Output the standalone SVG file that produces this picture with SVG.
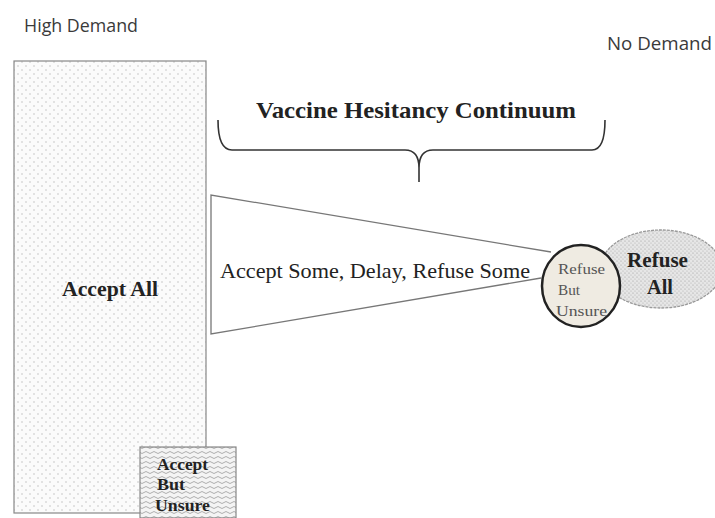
<svg xmlns="http://www.w3.org/2000/svg" width="715" height="518" viewBox="0 0 715 518">
<style>
.sans{font-family:"Open Sans","Liberation Sans",sans-serif;fill:#3a3a3a;font-size:18px}
.serif{font-family:"Liberation Serif","Times New Roman",serif;fill:#222}
.b{font-weight:bold}
.grey{fill:#555}
</style>
<defs>
<pattern id="dots" width="8" height="8" patternUnits="userSpaceOnUse">
<rect width="8" height="8" fill="#fbfbfb"/>
<circle cx="2" cy="2" r="0.8" fill="#c4c4c4"/>
<circle cx="6" cy="6" r="0.8" fill="#c4c4c4"/>
</pattern>
<pattern id="waves" width="8" height="5" patternUnits="userSpaceOnUse">
<rect width="8" height="5" fill="#f4f4f4"/>
<path d="M0 2.5 Q2 0.5 4 2.5 T8 2.5" fill="none" stroke="#9a9a9a" stroke-width="0.8"/>
</pattern>
<pattern id="stip" width="4" height="4" patternUnits="userSpaceOnUse">
<rect width="4" height="4" fill="#e6e6e6"/>
<circle cx="1" cy="1" r="0.6" fill="#9a9a9a"/>
<circle cx="3" cy="3" r="0.6" fill="#b0b0b0"/>
</pattern>
</defs>
<rect width="715" height="518" fill="#fff"/>
<text class="sans" x="24" y="32" textLength="114" lengthAdjust="spacingAndGlyphs">High Demand</text>
<text class="sans" x="607" y="50" textLength="105" lengthAdjust="spacingAndGlyphs">No Demand</text>
<g id="accept-all">
<rect x="14" y="61" width="192" height="452" fill="url(#dots)" stroke="#888" stroke-width="1.2"/>
<text class="serif b" x="62" y="296" font-size="20" textLength="96" lengthAdjust="spacingAndGlyphs">Accept All</text>
</g>
<g id="accept-but-unsure">
<rect x="140" y="447" width="96" height="71" fill="url(#waves)" stroke="#888" stroke-width="1.2"/>
<text class="serif b" font-size="16" x="157" y="470" textLength="51" lengthAdjust="spacingAndGlyphs">Accept</text>
<text class="serif b" font-size="16" x="157" y="490" textLength="28" lengthAdjust="spacingAndGlyphs">But</text>
<text class="serif b" font-size="16" x="155" y="511" textLength="55" lengthAdjust="spacingAndGlyphs">Unsure</text>
</g>
<g id="continuum">
<path d="M218 120 Q218 150 232 150 L405 150 Q419 150 419 168 L419 182 M419 168 Q419 150 433 150 L592 150 Q605 150 605 120" fill="none" stroke="#333" stroke-width="1.6"/>
<text class="serif b" x="256" y="118" font-size="24" textLength="320" lengthAdjust="spacingAndGlyphs">Vaccine Hesitancy Continuum</text>
</g>
<g id="accept-some">
<path d="M551 252 L211 195 L211 334 L541 278" fill="#fff" stroke="#777" stroke-width="1.3"/>
<text class="serif" x="220" y="278" font-size="21" textLength="310" lengthAdjust="spacingAndGlyphs">Accept Some, Delay, Refuse Some</text>
</g>
<g id="refuse-all">
<ellipse cx="661" cy="269" rx="61" ry="39" fill="url(#stip)" stroke="#999" stroke-width="1.3" stroke-dasharray="3 1"/>
<text class="serif b" font-size="20" x="627" y="267" textLength="61" lengthAdjust="spacingAndGlyphs">Refuse</text>
<text class="serif b" font-size="20" x="647" y="294" textLength="26" lengthAdjust="spacingAndGlyphs">All</text>
</g>
<g id="refuse-but-unsure">
<ellipse cx="581" cy="286" rx="39" ry="41" fill="#efebe2" stroke="#222" stroke-width="2.5"/>
<text class="serif grey" font-size="15" x="558" y="274" textLength="47" lengthAdjust="spacingAndGlyphs">Refuse</text>
<text class="serif grey" font-size="15" x="558" y="295" textLength="22" lengthAdjust="spacingAndGlyphs">But</text>
<text class="serif grey" font-size="15" x="556" y="316" textLength="51" lengthAdjust="spacingAndGlyphs">Unsure</text>
</g>
</svg>
